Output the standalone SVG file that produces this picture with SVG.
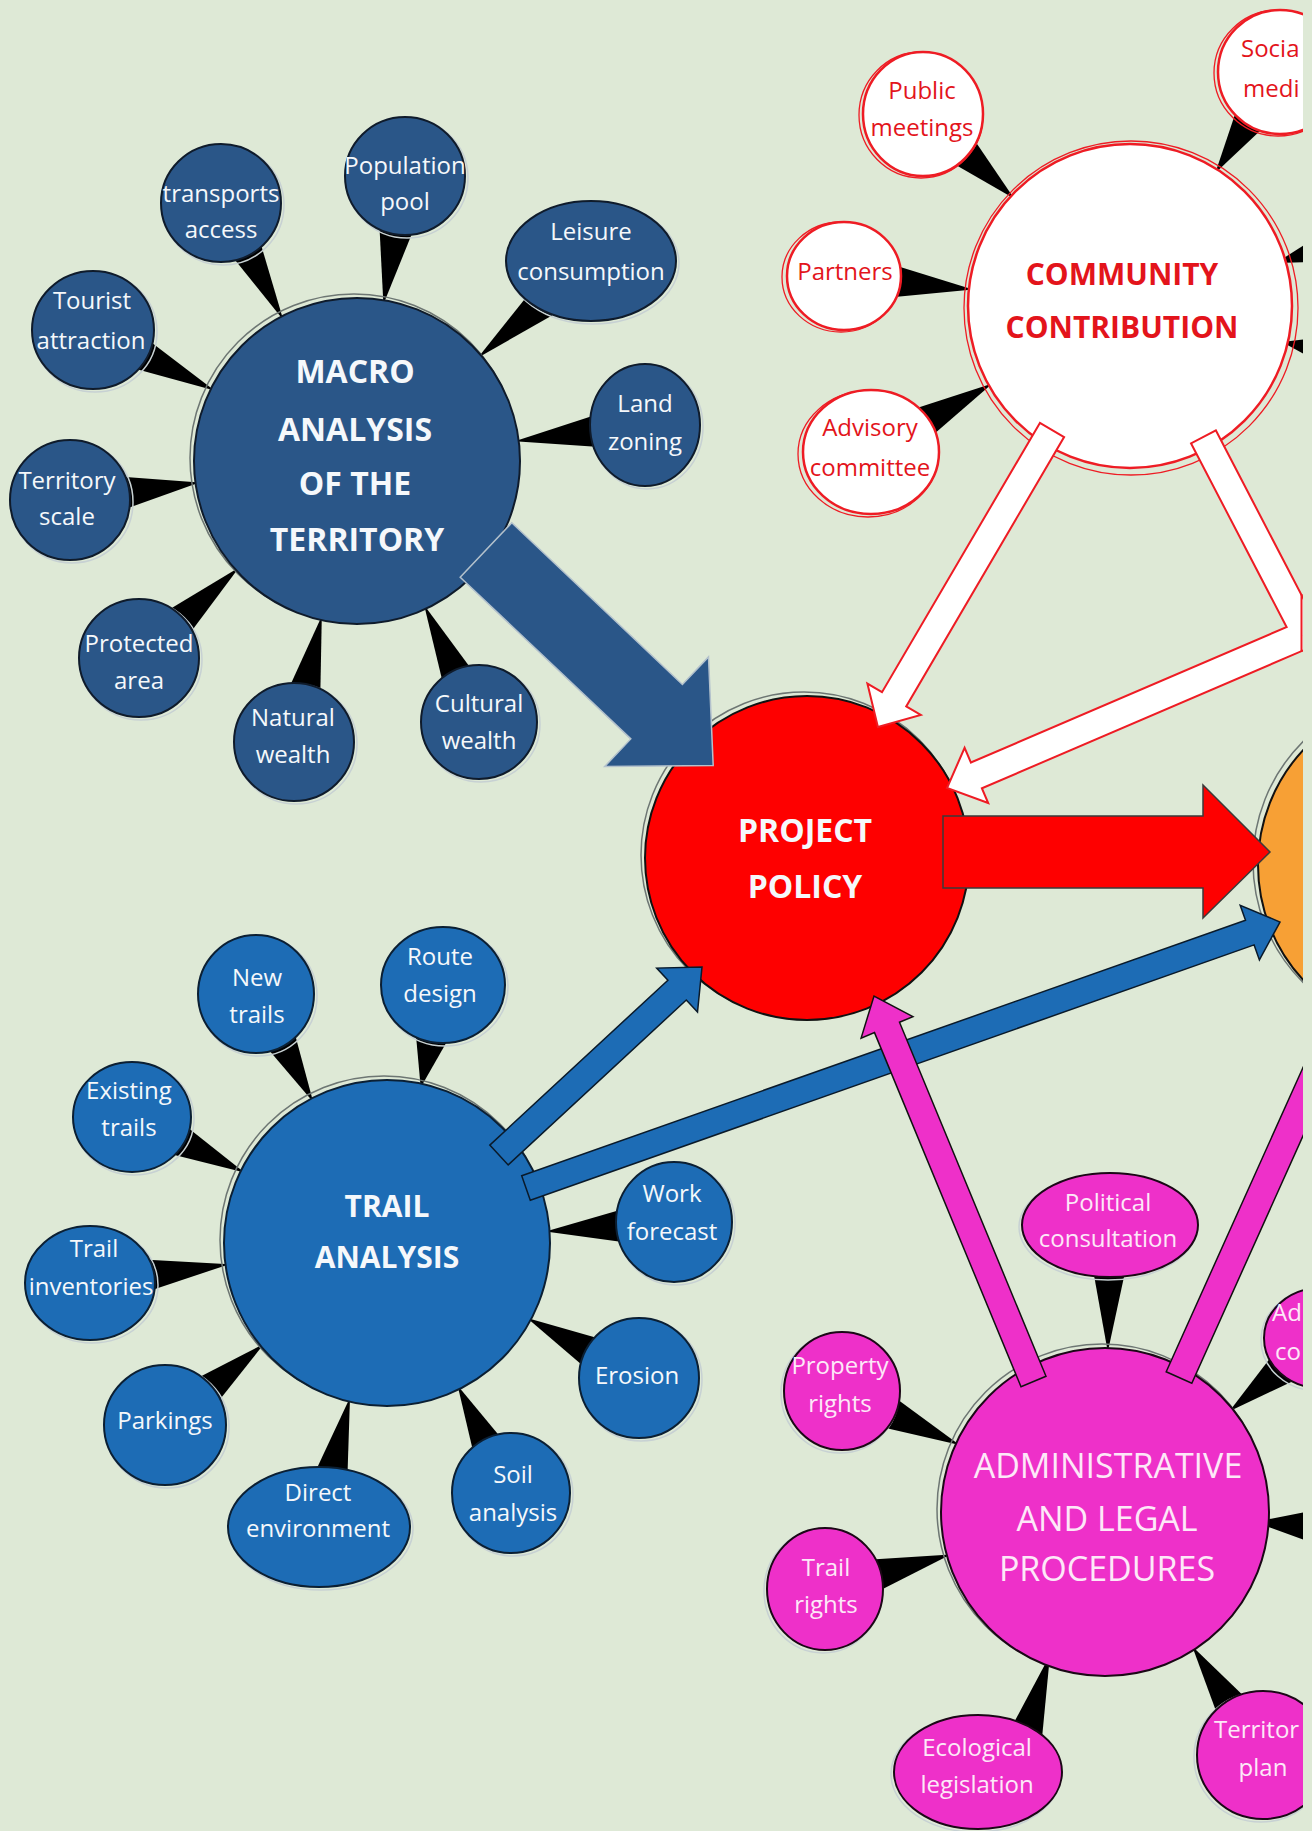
<svg xmlns="http://www.w3.org/2000/svg" width="1312" height="1831" viewBox="0 0 1312 1831">
<defs>
<style>
text{font-family:"Open Sans","Liberation Sans",sans-serif;text-anchor:middle}
.s{font-size:24px}
.st{text-anchor:start}
.w{fill:#f5f8fb}
.r{fill:#e3141b}
.pk{fill:#fde8f8}
.b{font-weight:bold}
.mac{fill:#2a5688;stroke:#0f1b2b;stroke-width:2}
.trl{fill:#1d6cb5;stroke:#0b1f33;stroke-width:2}
.pnk{fill:#ee30c9;stroke:#1b0716;stroke-width:2}
.com{fill:#fff;stroke:#ee1c24;stroke-width:2.5}
.ora{fill:#f7a035;stroke:#111;stroke-width:2}
.red{fill:#fe0000;stroke:#111;stroke-width:2}
.ring{fill:none;stroke:#6d7673;stroke-width:1.5}
.lring{fill:none;stroke:#c7d1d3;stroke-width:1.5}
.cring{fill:none;stroke:#ee1c24;stroke-width:1.3}
.wedge{fill:#000}
</style>
<clipPath id="clip"><rect x="0" y="0" width="1303" height="1831"/></clipPath>
</defs>
<rect width="1312" height="1831" fill="#dee9d6"/>
<g clip-path="url(#clip)">
<g id="spokes">
<polygon class="wedge" points="231.4,255.4 259.8,240.6 283.3,320.1"/>
<polygon class="wedge" points="379.4,225.5 413.0,231.1 383.4,304.2"/>
<polygon class="wedge" points="531.2,291.0 552.0,315.4 477.9,357.7"/>
<polygon class="wedge" points="133.3,368.2 147.5,339.6 214.5,390.5"/>
<polygon class="wedge" points="595.4,415.1 599.4,446.9 514.8,441.3"/>
<polygon class="wedge" points="126.7,508.6 122.3,476.8 199.4,482.5"/>
<polygon class="wedge" points="189.0,634.4 167.6,610.6 239.0,567.6"/>
<polygon class="wedge" points="320.3,694.8 289.1,687.8 321.8,616.0"/>
<polygon class="wedge" points="472.0,670.0 443.0,683.6 424.1,605.1"/>
<polygon class="wedge" points="265.9,1046.5 294.3,1031.7 313.2,1102.1"/>
<polygon class="wedge" points="415.9,1034.4 447.1,1041.2 420.7,1087.6"/>
<polygon class="wedge" points="170.6,1153.9 184.8,1125.3 244.4,1172.6"/>
<polygon class="wedge" points="147.6,1291.4 143.4,1259.6 229.4,1264.2"/>
<polygon class="wedge" points="216.9,1403.2 196.7,1378.4 264.0,1343.8"/>
<polygon class="wedge" points="347.4,1477.2 316.2,1469.8 350.0,1397.6"/>
<polygon class="wedge" points="502.2,1439.3 473.6,1453.5 457.6,1385.4"/>
<polygon class="wedge" points="599.0,1338.4 583.8,1366.6 527.1,1318.1"/>
<polygon class="wedge" points="619.9,1209.9 622.3,1241.9 545.6,1231.4"/>
<polygon class="wedge" points="952.4,163.1 974.2,139.7 1014.1,198.5"/>
<polygon class="wedge" points="892.0,297.2 895.4,265.4 972.9,289.6"/>
<polygon class="wedge" points="931.2,436.4 915.4,408.6 992.4,383.6"/>
<polygon class="wedge" points="1236.3,110.5 1263.3,127.7 1215.3,173.0"/>
<polygon class="wedge" points="1276,263 1315,238 1315,262"/>
<polygon class="wedge" points="1282,342 1315,338 1315,360"/>
<polygon class="wedge" points="1093.2,1270.7 1125.2,1271.3 1107.8,1352.0"/>
<polygon class="wedge" points="882.5,1427.2 895.9,1398.2 959.6,1445.1"/>
<polygon class="wedge" points="880.3,1590.3 871.9,1559.5 950.7,1554.4"/>
<polygon class="wedge" points="1010,1730 1042,1738 1050,1655"/>
<polygon class="wedge" points="1243.7,1696.0 1216.9,1713.4 1192.2,1646.2"/>
<polygon class="wedge" points="1271.0,1357.1 1291.2,1381.9 1229.4,1411.3"/>
<polygon class="wedge" points="1255,1522 1315,1510 1315,1544"/>
</g>

<g id="node-macro">
<circle class="ring" cx="354" cy="458" r="164"/>
<circle class="mac" cx="357" cy="461" r="163"/>
<text class="w b" font-size="32" x="355" y="383">MACRO</text>
<text class="w b" font-size="32" x="355" y="441">ANALYSIS</text>
<text class="w b" font-size="32" x="355" y="495">OF THE</text>
<text class="w b" font-size="32" x="357" y="551">TERRITORY</text>
</g>
<g id="node-transports-access"><ellipse class="lring" cx="223" cy="205" rx="61" ry="60"/><ellipse class="mac" cx="221" cy="203" rx="60" ry="59"/><text class="s w" x="221" y="202">transports</text><text class="s w" x="221" y="238">access</text></g>
<g id="node-population-pool"><ellipse class="lring" cx="407" cy="178" rx="61" ry="60"/><ellipse class="mac" cx="405" cy="176" rx="60" ry="59"/><text class="s w" x="405" y="174">Population</text><text class="s w" x="405" y="210">pool</text></g>
<g id="node-leisure-consumption"><ellipse class="lring" cx="593" cy="263" rx="86" ry="61"/><ellipse class="mac" cx="591" cy="261" rx="85" ry="60"/><text class="s w" x="591" y="240">Leisure</text><text class="s w" x="591" y="280">consumption</text></g>
<g id="node-tourist-attraction"><ellipse class="lring" cx="95" cy="332" rx="62" ry="60"/><ellipse class="mac" cx="93" cy="330" rx="61" ry="59"/><text class="s w" x="92" y="309">Tourist</text><text class="s w" x="91" y="349">attraction</text></g>
<g id="node-land-zoning"><ellipse class="lring" cx="647" cy="427" rx="56" ry="62"/><ellipse class="mac" cx="645" cy="425" rx="55" ry="61"/><text class="s w" x="645" y="412">Land</text><text class="s w" x="645" y="450">zoning</text></g>
<g id="node-territory-scale"><ellipse class="lring" cx="72" cy="502" rx="61" ry="61"/><ellipse class="mac" cx="70" cy="500" rx="60" ry="60"/><text class="s w" x="67" y="489">Territory</text><text class="s w" x="67" y="525">scale</text></g>
<g id="node-protected-area"><ellipse class="lring" cx="141" cy="660" rx="61" ry="60"/><ellipse class="mac" cx="139" cy="658" rx="60" ry="59"/><text class="s w" x="139" y="652">Protected</text><text class="s w" x="139" y="689">area</text></g>
<g id="node-natural-wealth"><ellipse class="lring" cx="296" cy="744" rx="61" ry="60"/><ellipse class="mac" cx="294" cy="742" rx="60" ry="59"/><text class="s w" x="293" y="726">Natural</text><text class="s w" x="293" y="763">wealth</text></g>
<g id="node-cultural-wealth"><ellipse class="lring" cx="481" cy="724" rx="59" ry="58"/><ellipse class="mac" cx="479" cy="722" rx="58" ry="57"/><text class="s w" x="479" y="712">Cultural</text><text class="s w" x="479" y="749">wealth</text></g>

<g id="node-trail">
<circle class="ring" cx="384" cy="1240" r="164"/>
<circle class="trl" cx="387" cy="1243" r="163"/>
<text class="w b" font-size="30" x="387" y="1217">TRAIL</text>
<text class="w b" font-size="30" x="387" y="1268">ANALYSIS</text>
</g>
<g id="node-new-trails"><ellipse class="lring" cx="258" cy="996" rx="59" ry="60"/><ellipse class="trl" cx="256" cy="994" rx="58" ry="59"/><text class="s w" x="257" y="986">New</text><text class="s w" x="257" y="1023">trails</text></g>
<g id="node-route-design"><ellipse class="lring" cx="445" cy="987" rx="63" ry="59"/><ellipse class="trl" cx="443" cy="985" rx="62" ry="58"/><text class="s w" x="440" y="965">Route</text><text class="s w" x="440" y="1002">design</text></g>
<g id="node-existing-trails"><ellipse class="lring" cx="134" cy="1119" rx="60" ry="56"/><ellipse class="trl" cx="132" cy="1117" rx="59" ry="55"/><text class="s w" x="129" y="1099">Existing</text><text class="s w" x="129" y="1136">trails</text></g>
<g id="node-trail-inventories"><ellipse class="lring" cx="92" cy="1285" rx="66" ry="58"/><ellipse class="trl" cx="90" cy="1283" rx="65" ry="57"/><text class="s w" x="94" y="1257">Trail</text><text class="s w" x="91" y="1295">inventories</text></g>
<g id="node-parkings"><ellipse class="lring" cx="167" cy="1427" rx="62" ry="61"/><ellipse class="trl" cx="165" cy="1425" rx="61" ry="60"/><text class="s w" x="165" y="1429">Parkings</text></g>
<g id="node-direct-environment"><ellipse class="lring" cx="321" cy="1529" rx="92" ry="61"/><ellipse class="trl" cx="319" cy="1527" rx="91" ry="60"/><text class="s w" x="318" y="1501">Direct</text><text class="s w" x="318" y="1537">environment</text></g>
<g id="node-soil-analysis"><ellipse class="lring" cx="513" cy="1495" rx="60" ry="61"/><ellipse class="trl" cx="511" cy="1493" rx="59" ry="60"/><text class="s w" x="513" y="1483">Soil</text><text class="s w" x="513" y="1521">analysis</text></g>
<g id="node-erosion"><ellipse class="lring" cx="641" cy="1380" rx="61" ry="61"/><ellipse class="trl" cx="639" cy="1378" rx="60" ry="60"/><text class="s w" x="637" y="1384">Erosion</text></g>
<g id="node-work-forecast"><ellipse class="lring" cx="676" cy="1224" rx="59" ry="61"/><ellipse class="trl" cx="674" cy="1222" rx="58" ry="60"/><text class="s w" x="672" y="1202">Work</text><text class="s w" x="672" y="1240">forecast</text></g>

<g id="node-community">
<circle class="cring" cx="1131" cy="308" r="167"/>
<circle class="com" cx="1130" cy="306" r="162"/>
<text class="r b" font-size="30" x="1122" y="285">COMMUNITY</text>
<text class="r b" font-size="30" x="1122" y="338">CONTRIBUTION</text>
</g>
<g id="node-public-meetings"><ellipse class="cring" cx="921" cy="115" rx="62" ry="63"/><ellipse class="com" cx="923" cy="114" rx="60" ry="62"/><text class="s r" x="922" y="99">Public</text><text class="s r" x="922" y="136">meetings</text></g>
<g id="node-partners"><ellipse class="cring" cx="841" cy="277" rx="59" ry="55"/><ellipse class="com" cx="844" cy="276" rx="57" ry="54"/><text class="s r" x="845" y="280">Partners</text></g>
<g id="node-advisory-committee"><ellipse class="cring" cx="868" cy="454" rx="70" ry="63"/><ellipse class="com" cx="871" cy="452" rx="68" ry="62"/><text class="s r" x="870" y="436">Advisory</text><text class="s r" x="870" y="476">committee</text></g>
<g id="node-social-media"><ellipse class="cring" cx="1278" cy="73" rx="64" ry="63"/><ellipse class="com" cx="1280" cy="72" rx="62" ry="62"/><text class="s r st" x="1241" y="57">Socia</text><text class="s r st" x="1243" y="97">medi</text></g>

<g id="node-project-policy">
<circle class="ring" cx="804" cy="855" r="163"/>
<circle class="red" cx="807" cy="858" r="162"/>
<text class="w b" font-size="32" x="805" y="842">PROJECT</text>
<text class="w b" font-size="32" x="805" y="898">POLICY</text>
</g>

<g id="node-orange">
<circle class="ring" cx="1423" cy="862" r="170"/>
<circle class="ora" cx="1427" cy="865" r="169"/>
</g>

<g id="node-admin">
<circle class="ring" cx="1102" cy="1509" r="165"/>
<circle class="pnk" cx="1105" cy="1512" r="164"/>
<text class="pk" font-size="34" x="1108" y="1478">ADMINISTRATIVE</text>
<text class="pk" font-size="34" x="1107" y="1531">AND LEGAL</text>
<text class="pk" font-size="34" x="1107" y="1581">PROCEDURES</text>
</g>
<g id="node-political-consultation"><ellipse class="lring" cx="1108" cy="1227" rx="89" ry="53"/><ellipse class="pnk" cx="1110" cy="1225" rx="88" ry="52"/><text class="s pk" x="1108" y="1211">Political</text><text class="s pk" x="1108" y="1247">consultation</text></g>
<g id="node-property-rights"><ellipse class="lring" cx="840" cy="1393" rx="59" ry="60"/><ellipse class="pnk" cx="842" cy="1391" rx="58" ry="59"/><text class="s pk" x="840" y="1374">Property</text><text class="s pk" x="840" y="1412">rights</text></g>
<g id="node-trail-rights"><ellipse class="lring" cx="823" cy="1591" rx="59" ry="62"/><ellipse class="pnk" cx="825" cy="1589" rx="58" ry="61"/><text class="s pk" x="826" y="1576">Trail</text><text class="s pk" x="826" y="1613">rights</text></g>
<g id="node-ecological-legislation"><ellipse class="lring" cx="976" cy="1774" rx="85" ry="58"/><ellipse class="pnk" cx="978" cy="1772" rx="84" ry="57"/><text class="s pk" x="977" y="1756">Ecological</text><text class="s pk" x="977" y="1793">legislation</text></g>
<g id="node-territory-plan"><ellipse class="lring" cx="1261" cy="1757" rx="67" ry="65"/><ellipse class="pnk" cx="1263" cy="1755" rx="66" ry="64"/><text class="s pk st" x="1214" y="1738">Territor</text><text class="s pk" x="1263" y="1776">plan</text></g>
<g id="node-ad"><ellipse class="lring" cx="1318" cy="1340" rx="57" ry="51"/><ellipse class="pnk" cx="1320" cy="1338" rx="56" ry="50"/><text class="s pk st" x="1272" y="1321">Ad</text><text class="s pk st" x="1275" y="1360">co</text></g>

<g id="connectors">
<polygon points="511.8,522.8 682.4,684.5 708.5,656.9 713.2,765.4 604.7,766.5 630.8,738.9 460.2,577.2" fill="#2a5688" stroke="#b3c1cc" stroke-width="1.5"/>
<polygon points="1039.9,422.9 882.0,692.2 867.4,683.6 877.9,726.9 920.8,715.0 906.2,706.4 1064.1,437.1" fill="#fff" stroke="#ee1c24" stroke-width="2"/>
<path d="M1203,436 L1306,634 L976.4,775.4" fill="none" stroke="#ee1c24" stroke-width="30" stroke-linejoin="miter"/>
<polygon points="988.2,803.0 947,788 964.6,747.8" fill="#fff" stroke="#ee1c24" stroke-width="2"/>
<path d="M1203.9,437.8 L1306,634 L973.6,776.6" fill="none" stroke="#fff" stroke-width="26" stroke-linejoin="miter"/>
<line x1="1301.5" y1="594" x2="1301.5" y2="652" stroke="#ee1c24" stroke-width="2"/>
<polygon points="943,816 1203,816 1203,785 1270,852 1203,918 1203,888 943,888" fill="#fe0000" stroke="#3a3a3a" stroke-width="1.5"/>
<polygon points="489.8,1145.1 667.9,980.2 656.7,968.1 702,967 697.5,1012.1 686.3,1000.0 508.2,1164.9" fill="#1d6cb5" stroke="#0a1a2a" stroke-width="1.5"/>
<polygon points="521.7,1175.7 1245.5,920.3 1240.2,905.3 1280,922 1259.4,959.9 1254.1,944.9 530.3,1200.3" fill="#1d6cb5" stroke="#0a1a2a" stroke-width="1.5"/>
<polygon points="1021.0,1386.7 874.5,1032.6 861.1,1038.1 874,996 912.9,1016.7 899.5,1022.2 1046.0,1376.3" fill="#ee30c9" stroke="#111" stroke-width="1.5"/>
<polygon points="1166.2,1371.8 1371.2,915.8 1396.8,927.2 1191.8,1383.2" fill="#ee30c9" stroke="#111" stroke-width="1.5"/>
</g>
</g>
</svg>
